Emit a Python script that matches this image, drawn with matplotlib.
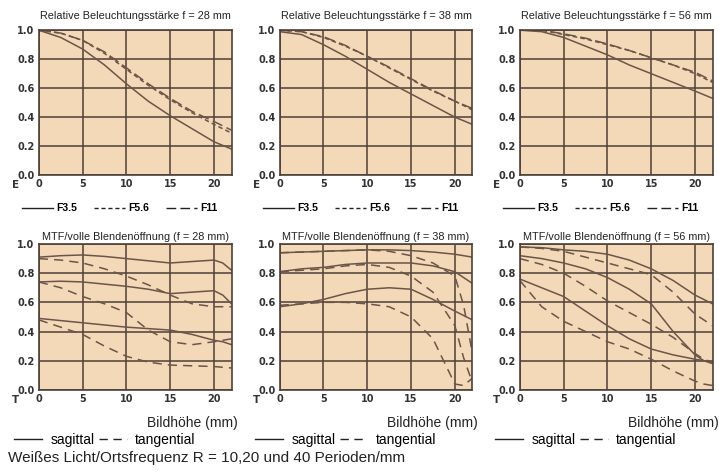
import matplotlib.pyplot as plt
from matplotlib.lines import Line2D

# relative illumination (E) vs image height
x_e = [0, 2.5, 5, 7.5, 10, 12.5, 15, 17.5, 20, 22]
e_28 = {
    "F3.5": [1.0, 0.95, 0.87, 0.76, 0.63, 0.51, 0.41, 0.32, 0.23, 0.18],
    "F5.6": [1.0, 0.98, 0.93, 0.84, 0.73, 0.62, 0.52, 0.43, 0.35, 0.29],
    "F11": [1.0, 0.98, 0.93, 0.85, 0.74, 0.63, 0.53, 0.44, 0.37, 0.31],
}
e_38 = {
    "F3.5": [0.99, 0.97, 0.90, 0.82, 0.73, 0.64, 0.56, 0.48, 0.40, 0.35],
    "F5.6": [1.0, 0.99, 0.95, 0.89, 0.82, 0.74, 0.66, 0.58, 0.51, 0.45],
    "F11": [1.0, 0.99, 0.955, 0.895, 0.82, 0.745, 0.665, 0.585, 0.51, 0.46],
}
e_56 = {
    "F3.5": [1.0, 0.99, 0.95, 0.89, 0.83, 0.76, 0.70, 0.64, 0.58, 0.53],
    "F5.6": [1.0, 1.0, 0.97, 0.94, 0.90, 0.86, 0.81, 0.76, 0.70, 0.64],
    "F11": [1.0, 1.0, 0.975, 0.945, 0.905, 0.86, 0.81, 0.76, 0.71, 0.65],
}

# MTF (T) at 10, 20, 40 lp/mm, sagittal (s) and tangential (t)
x_t = [0, 2.5, 5, 7.5, 10, 12.5, 15, 17.5, 20, 21, 22]
t_28 = {
    "s10": [0.91, 0.92, 0.925, 0.915, 0.90, 0.885, 0.87, 0.88, 0.89, 0.87, 0.82],
    "t10": [0.90, 0.89, 0.87, 0.83, 0.78, 0.72, 0.65, 0.59, 0.57, 0.57, 0.57],
    "s20": [0.74, 0.745, 0.74, 0.725, 0.71, 0.69, 0.66, 0.67, 0.68, 0.65, 0.59],
    "t20": [0.74, 0.70, 0.64, 0.59, 0.53, 0.41, 0.33, 0.31, 0.33, 0.34, 0.35],
    "s40": [0.49, 0.475, 0.46, 0.445, 0.43, 0.42, 0.41, 0.38, 0.34, 0.33, 0.31],
    "t40": [0.48, 0.43, 0.38, 0.30, 0.23, 0.19, 0.17, 0.165, 0.16, 0.155, 0.15],
}
t_38 = {
    "s10": [0.94, 0.945, 0.95, 0.955, 0.96, 0.96, 0.955, 0.945, 0.93, 0.92, 0.91],
    "t10": [0.94, 0.945, 0.95, 0.955, 0.96, 0.95, 0.92, 0.87, 0.78, 0.58, 0.25],
    "s20": [0.81, 0.83, 0.84, 0.86, 0.87, 0.87, 0.87, 0.85, 0.81, 0.77, 0.73],
    "t20": [0.81, 0.82, 0.83, 0.85, 0.86, 0.84, 0.78, 0.67, 0.44, 0.22, 0.05],
    "s40": [0.57, 0.59, 0.62, 0.66, 0.69, 0.70, 0.69, 0.62, 0.54, 0.51, 0.48],
    "t40": [0.58, 0.59, 0.60, 0.60, 0.59, 0.57, 0.50, 0.35, 0.04, 0.03, 0.08],
}
t_56 = {
    "s10": [0.98, 0.975, 0.96, 0.95, 0.93, 0.89, 0.83, 0.75, 0.65, 0.62, 0.59],
    "t10": [0.98, 0.97, 0.95, 0.91, 0.87, 0.83, 0.79, 0.67, 0.52, 0.48, 0.44],
    "s20": [0.92, 0.90, 0.87, 0.83, 0.77, 0.69, 0.59, 0.40, 0.24, 0.20, 0.18],
    "t20": [0.90, 0.86, 0.80, 0.71, 0.61, 0.53, 0.45, 0.36, 0.25, 0.21, 0.19],
    "s40": [0.76, 0.70, 0.64, 0.54, 0.44, 0.35, 0.28, 0.24, 0.21, 0.20, 0.19],
    "t40": [0.75, 0.57, 0.47, 0.40, 0.33, 0.28, 0.21, 0.13, 0.06, 0.04, 0.03],
}

focal = ["28", "38", "56"]
e_data = [e_28, e_38, e_56]
t_data = [t_28, t_38, t_56]

bg = "#f4d9b8"
ink = "#6a5548"
grid_c = "#4e4038"
sans = "Liberation Sans"

e_styles = {"F3.5": "-", "F5.6": (0, (3, 2)), "F11": (0, (7, 3))}
t_styles = {"s": "-", "t": (0, (6, 4))}

fig = plt.figure(figsize=(7.19, 4.72), dpi=100)
lefts = [0.054, 0.389, 0.723]


def style_axes(ax, letter):
    ax.set_facecolor(bg)
    ax.set_xlim(0, 22)
    ax.set_ylim(0, 1.0)
    ax.set_xticks([0, 5, 10, 15, 20])
    ax.set_yticks([0, 0.2, 0.4, 0.6, 0.8, 1.0])
    ax.set_yticklabels(["0.0", "0.2", "0.4", "0.6", "0.8", "1.0"])
    ax.grid(True, color=grid_c, lw=1.1)
    ax.tick_params(length=0, labelsize=7, pad=3)
    for lab in ax.get_xticklabels() + ax.get_yticklabels():
        lab.set_fontweight("bold")
        lab.set_color("#333333")
    for sp in ax.spines.values():
        sp.set_color(grid_c)
        sp.set_linewidth(1.2)
    ax.text(-0.14, -0.09, letter, transform=ax.transAxes, fontsize=7.5,
            fontweight="bold", color="#333333")


for i in range(3):
    ax = fig.add_axes([lefts[i], 0.629, 0.268, 0.307])
    style_axes(ax, "E")
    for key, vals in e_data[i].items():
        ax.plot(x_e, vals, color=ink, lw=1.1, ls=e_styles[key])
    ax.set_title(f"Relative Beleuchtungsstärke f = {focal[i]} mm", fontsize=7.8,
                 family=sans, color="#222222", pad=8)
    handles = [Line2D([], [], color="#222222", lw=1, ls=e_styles[k]) for k in e_styles]
    ax.legend(handles, ["F3.5", "F5.6", "F11"], loc="upper center",
              bbox_to_anchor=(0.42, -0.13), ncol=3, frameon=False,
              handlelength=3.0, handletextpad=0.3, columnspacing=1.6,
              prop={"family": sans, "size": 7.5, "weight": "bold"})

    ax = fig.add_axes([lefts[i], 0.174, 0.268, 0.309])
    style_axes(ax, "T")
    for key, vals in t_data[i].items():
        ax.plot(x_t, vals, color=ink, lw=1.1, ls=t_styles[key[0]])
    ax.set_title(f"MTF/volle Blendenöffnung (f = {focal[i]} mm)", fontsize=7.8,
                 family=sans, color="#222222", pad=3)
    ax.text(1.03, -0.18, "Bildhöhe (mm)", transform=ax.transAxes, ha="right",
            va="top", fontsize=10, family=sans, color="#222222")
    handles = [Line2D([], [], color="#222222", lw=1, ls=t_styles[k]) for k in t_styles]
    ax.legend(handles, ["sagittal", "tangential"], loc="upper left",
              bbox_to_anchor=(-0.17, -0.24), ncol=2, frameon=False,
              handlelength=2.0, handletextpad=0.6, columnspacing=0.3,
              borderaxespad=0.2, prop={"family": sans, "size": 10})

fig.text(0.011, 0.030, "Weißes Licht/Ortsfrequenz R = 10,20 und 40 Perioden/mm",
         fontsize=11, family=sans, color="#222222", va="center")

fig.savefig("out.png", dpi=100, facecolor="white")
